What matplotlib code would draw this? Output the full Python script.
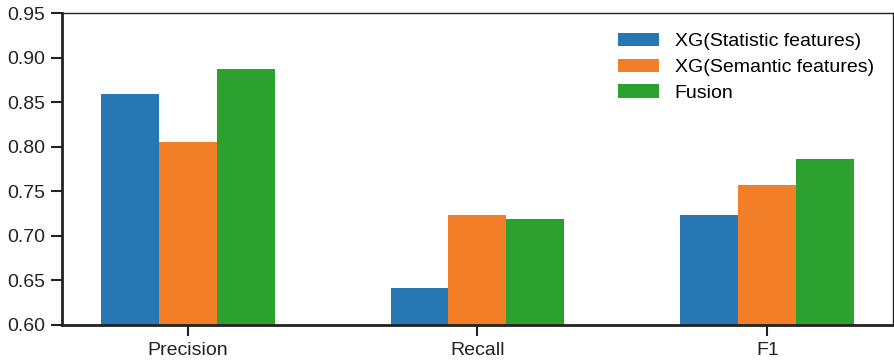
import numpy as np
import matplotlib
matplotlib.use("Agg")
import matplotlib.pyplot as plt

plt.rcParams['font.family'] = ['Liberation Sans', 'DejaVu Sans']

metrics = ['Precision', 'Recall', 'F1']
statistic = [0.860, 0.641, 0.723]
semantic = [0.805, 0.724, 0.757]
fusion = [0.887, 0.719, 0.786]
series_names = ['XG(Statistic features)', 'XG(Semantic features)', 'Fusion']
colors = ['#2777b4', '#f27f27', '#2ca130']

fig, ax = plt.subplots(figsize=(8.95, 3.63), dpi=100)
fig.subplots_adjust(left=0.069, right=0.998, top=0.963, bottom=0.105)

x = np.arange(len(metrics))
width = 0.2
for i, (vals, name, c) in enumerate(zip([statistic, semantic, fusion], series_names, colors)):
    ax.bar(x + (i - 1) * width, vals, width, color=c, label=name)

ax.set_ylim(0.60, 0.95)
ax.set_xlim(-0.434, 2.434)
ax.set_xticks(x)
ax.set_xticklabels(metrics)
yt = np.arange(0.60, 0.951, 0.05)
ax.set_yticks(yt)
ax.set_yticklabels([f'{v:.2f}' for v in yt])
ax.tick_params(axis='both', labelsize=14, length=8, width=1.5, direction='out',
               colors='#222222', pad=4)

for side in ['left', 'bottom']:
    ax.spines[side].set_linewidth(2.0)
for side in ['top', 'right']:
    ax.spines[side].set_linewidth(1.0)
for s in ax.spines.values():
    s.set_color('#222222')

ax.legend(loc='upper right', frameon=False, fontsize=14, handlelength=2.1,
          handleheight=0.7, handletextpad=0.8, borderaxespad=0.6, labelspacing=0.42)

fig.savefig('out.png', dpi=100)
